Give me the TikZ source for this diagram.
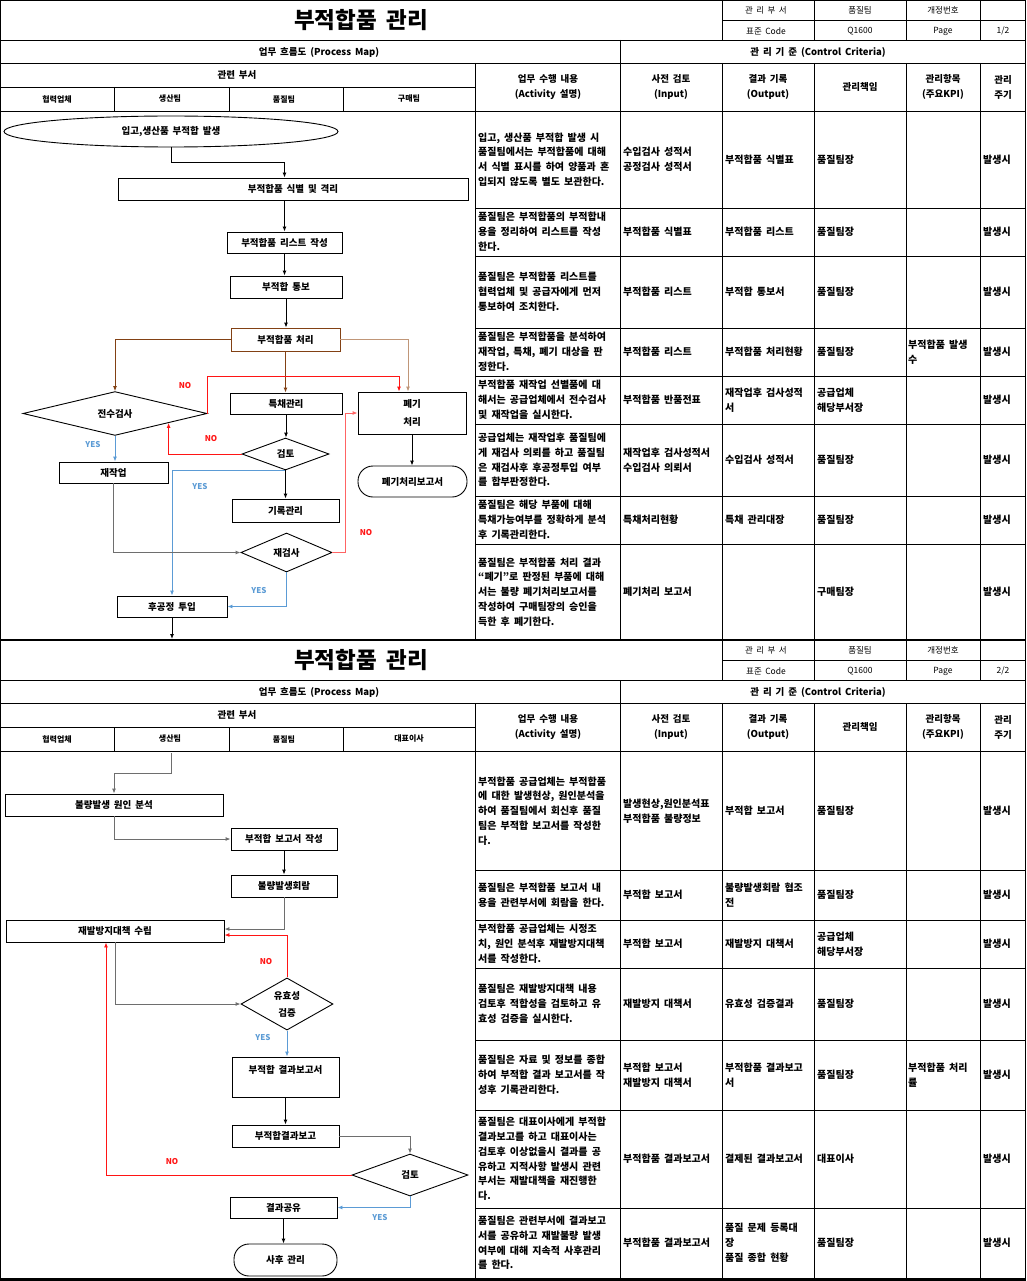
\documentclass[tikz,border=0pt]{standalone}
\usepackage{fontspec}
\setmainfont{Noto Sans CJK KR}[WordSpace=1.8]
\usetikzlibrary{shapes.geometric,arrows.meta,calc}
\definecolor{cred}{RGB}{255,20,20}
\definecolor{clred}{RGB}{255,100,100}
\definecolor{cblue}{RGB}{91,155,213}
\definecolor{cbrown}{RGB}{130,65,20}
\definecolor{clbrown}{RGB}{192,150,120}
\definecolor{cgray}{RGB}{110,110,110}
\newcommand\fcf{\bfseries\fontsize{9.5}{11}\selectfont}
\newcommand\tabf{\bfseries\fontsize{10}{14.8}\selectfont}
\begin{document}
\begin{tikzpicture}[x=1pt,y=-1pt,
  fbox/.style={draw,line width=0.9pt,inner sep=0pt,font=\fcf,align=center},
  rbox/.style={fbox,rounded corners=15pt},
  dia/.style={diamond,draw,line width=0.9pt,inner sep=0pt,font=\fcf,align=center},
  arr/.style={-{Latex[length=5pt,width=4pt]},line width=0.9pt},
  nolab/.style={text=cred,font=\bfseries\fontsize{8}{9}\selectfont,inner sep=0pt},
  yeslab/.style={text=cblue,font=\bfseries\fontsize{8}{9}\selectfont,inner sep=0pt},
  grid/.style={line width=0.8pt},
  cell/.style={anchor=west,inner sep=0pt,align=left,font=\tabf},
  hsm/.style={inner sep=0pt,font=\fontsize{8.5}{10}\selectfont},
  hmd/.style={inner sep=0pt,font=\bfseries\fontsize{9.5}{11}\selectfont},
  hln/.style={inner sep=0pt,font=\bfseries\fontsize{8}{9}\selectfont},
  hmd2/.style={inner sep=0pt,align=center,font=\bfseries\fontsize{9.5}{15}\selectfont}]
\useasboundingbox (0,0) rectangle (1026,1281);
\fill[white] (0,0) rectangle (1026,1281);

% ---------- headers and table grid ----------
\foreach \oy/\pg/\lane/\s in {0/1/구매팀/a,640/2/대표이사/b} {
 \begin{scope}[shift={(0,\oy)}]
  \draw[grid] (722,0) -- (722,40) (722,20) -- (1026,20) (814,0) -- (814,40) (906,0) -- (906,40) (980,0) -- (980,40);
  \draw[grid] (0,40) -- (1026,40) (0,63) -- (1026,63) (0,87) -- (475,87) (0,111) -- (1026,111);
  \draw[grid] (620,40) -- (620,640) (475,63) -- (475,640) (722,63) -- (722,640) (814,63) -- (814,640) (906,63) -- (906,640) (980,63) -- (980,640);
  \draw[grid] (114,87) -- (114,111) (229,87) -- (229,111) (343,87) -- (343,111);
  \node[inner sep=0pt,font=\bfseries\fontsize{22.5}{26}\selectfont] (title\s) at (361,20) {부적합품 관리};
  \node[hsm] (dept\s) at (766,10) {관 리 부 서};
  \node[hsm] (team\s) at (860,10) {품질팀};
  \node[hsm] (hrev\s) at (943,10) {개정번호};
  \node[hsm] (code\s) at (766,31) {표준 Code};
  \node[hsm] (q\s) at (860,31) {Q1600};
  \node[hsm] (page\s) at (943,31) {Page};
  \node[hsm] (pn\s) at (1003,31) {\pg/2};
  \node[hmd] (pm\s) at (319,52) {업무 흐름도 (Process Map)};
  \node[hmd] (cc\s) at (818,52) {관 리 기 준 (Control Criteria)};
  \node[hmd] (rd\s) at (237,75) {관련 부서};
  \node[hln] (la\s) at (57,99) {협력업체};
  \node[hln] (lb\s) at (170,99) {생산팀};
  \node[hln] (lc\s) at (284,99) {품질팀};
  \node[hln] (ld\s) at (409,99) {\lane};
  \node[hmd2] (act\s) at (548,87) {업무 수행 내용\\(Activity 설명)};
  \node[hmd2] (inp\s) at (671,87) {사전 검토\\(Input)};
  \node[hmd2] (out\s) at (768,87) {결과 기록\\(Output)};
  \node[hmd2] (resp\s) at (860,87) {관리책임};
  \node[hmd2] (kpi\s) at (943,87) {관리항목\\(주요KPI)};
  \node[hmd2] (cyc\s) at (1003,87) {관리\\주기};
 \end{scope}
}
\foreach \yy in {208,256,328,376,424,496,544,870,920,968,1040,1110,1208}
  \draw[grid] (475,\yy) -- (1026,\yy);
\draw[grid] (0,0.5) -- (1026,0.5);
\draw[line width=1.2pt] (0.6,0) -- (0.6,1281) (1025.4,0) -- (1025.4,1281);
\draw[line width=2.5pt] (0,640) -- (1026,640);
\draw[line width=3pt] (0,1279.5) -- (1026,1279.5);

% ---------- table texts page 1 ----------
\node[cell] (r1a) at (478,159.5) {입고, 생산품 부적합 발생 시\\품질팀에서는 부적합품에 대해\\서 식별 표시를 하여 양품과 혼\\입되지 않도록 별도 보관한다.};
\node[cell] (r1b) at (623,159.5) {수입검사 성적서\\공정검사 성적서};
\node[cell] (r1c) at (725,159.5) {부적합품 식별표};
\node[cell] (r1d) at (817,159.5) {품질팀장};
\node[cell] (r1f) at (983,159.5) {발생시};
\node[cell] (r2a) at (478,232) {품질팀은 부적합품의 부적합내\\용을 정리하여 리스트를 작성\\한다.};
\node[cell] (r2b) at (623,232) {부적합품 식별표};
\node[cell] (r2c) at (725,232) {부적합품 리스트};
\node[cell] (r2d) at (817,232) {품질팀장};
\node[cell] (r2f) at (983,232) {발생시};
\node[cell] (r3a) at (478,292) {품질팀은 부적합품 리스트를\\협력업체 및 공급자에게 먼저\\통보하여 조치한다.};
\node[cell] (r3b) at (623,292) {부적합품 리스트};
\node[cell] (r3c) at (725,292) {부적합 통보서};
\node[cell] (r3d) at (817,292) {품질팀장};
\node[cell] (r3f) at (983,292) {발생시};
\node[cell] (r4a) at (478,352) {품질팀은 부적합품을 분석하여\\재작업, 특채, 폐기 대상을 판\\정한다.};
\node[cell] (r4b) at (623,352) {부적합품 리스트};
\node[cell] (r4c) at (725,352) {부적합품 처리현황};
\node[cell] (r4d) at (817,352) {품질팀장};
\node[cell] (r4e) at (908,352) {부적합품 발생\\수};
\node[cell] (r4f) at (983,352) {발생시};
\node[cell] (r5a) at (478,400) {부적합품 재작업 선별품에 대\\해서는 공급업체에서 전수검사\\및 재작업을 실시한다.};
\node[cell] (r5b) at (623,400) {부적합품 반품전표};
\node[cell] (r5c) at (725,400) {재작업후 검사성적\\서};
\node[cell] (r5d) at (817,400) {공급업체\\해당부서장};
\node[cell] (r5f) at (983,400) {발생시};
\node[cell] (r6a) at (478,460) {공급업체는 재작업후 품질팀에\\게 재검사 의뢰를 하고 품질팀\\은 재검사후 후공정투입 여부\\를 합부판정한다.};
\node[cell] (r6b) at (623,460) {재작업후 검사성적서\\수입검사 의뢰서};
\node[cell] (r6c) at (725,460) {수입검사 성적서};
\node[cell] (r6d) at (817,460) {품질팀장};
\node[cell] (r6f) at (983,460) {발생시};
\node[cell] (r7a) at (478,520) {품질팀은 해당 부품에 대해\\특채가능여부를 정확하게 분석\\후 기록관리한다.};
\node[cell] (r7b) at (623,520) {특채처리현황};
\node[cell] (r7c) at (725,520) {특채 관리대장};
\node[cell] (r7d) at (817,520) {품질팀장};
\node[cell] (r7f) at (983,520) {발생시};
\node[cell] (r8a) at (478,592) {품질팀은 부적합품 처리 결과\\“폐기”로 판정된 부품에 대해\\서는 불량 폐기처리보고서를\\작성하여 구매팀장의 승인을\\득한 후 폐기한다.};
\node[cell] (r8b) at (623,592) {폐기처리 보고서};
\node[cell] (r8d) at (817,592) {구매팀장};
\node[cell] (r8f) at (983,592) {발생시};

% ---------- table texts page 2 ----------
\node[cell] (s1a) at (478,811) {부적합품 공급업체는 부적합품\\에 대한 발생현상, 원인분석을\\하여 품질팀에서 회신후 품질\\팀은 부적합 보고서를 작성한\\다.};
\node[cell] (s1b) at (623,811) {발생현상,원인분석표\\부적합품 불량정보};
\node[cell] (s1c) at (725,811) {부적합 보고서};
\node[cell] (s1d) at (817,811) {품질팀장};
\node[cell] (s1f) at (983,811) {발생시};
\node[cell] (s2a) at (478,895) {품질팀은 부적합품 보고서 내\\용을 관련부서에 회람을 한다.};
\node[cell] (s2b) at (623,895) {부적합 보고서};
\node[cell] (s2c) at (725,895) {불량발생회람 협조\\전};
\node[cell] (s2d) at (817,895) {품질팀장};
\node[cell] (s2f) at (983,895) {발생시};
\node[cell] (s3a) at (478,944) {부적합품 공급업체는 시정조\\치, 원인 분석후 재발방지대책\\서를 작성한다.};
\node[cell] (s3b) at (623,944) {부적합 보고서};
\node[cell] (s3c) at (725,944) {재발방지 대책서};
\node[cell] (s3d) at (817,944) {공급업체\\해당부서장};
\node[cell] (s3f) at (983,944) {발생시};
\node[cell] (s4a) at (478,1004) {품질팀은 재발방지대책 내용\\검토후 적합성을 검토하고 유\\효성 검증을 실시한다.};
\node[cell] (s4b) at (623,1004) {재발방지 대책서};
\node[cell] (s4c) at (725,1004) {유효성 검증결과};
\node[cell] (s4d) at (817,1004) {품질팀장};
\node[cell] (s4f) at (983,1004) {발생시};
\node[cell] (s5a) at (478,1075) {품질팀은 자료 및 정보를 종합\\하여 부적합 결과 보고서를 작\\성후 기록관리한다.};
\node[cell] (s5b) at (623,1075) {부적합 보고서\\재발방지 대책서};
\node[cell] (s5c) at (725,1075) {부적합품 결과보고\\서};
\node[cell] (s5d) at (817,1075) {품질팀장};
\node[cell] (s5e) at (908,1075) {부적합품 처리\\률};
\node[cell] (s5f) at (983,1075) {발생시};
\node[cell] (s6a) at (478,1159) {품질팀은 대표이사에게 부적합\\결과보고를 하고 대표이사는\\검토후 이상없을시 결과를 공\\유하고 지적사항 발생시 관련\\부서는 재발대책을 재진행한\\다.};
\node[cell] (s6b) at (623,1159) {부적합품 결과보고서};
\node[cell] (s6c) at (725,1159) {결제된 결과보고서};
\node[cell] (s6d) at (817,1159) {대표이사};
\node[cell] (s6f) at (983,1159) {발생시};
\node[cell] (s7a) at (478,1243) {품질팀은 관련부서에 결과보고\\서를 공유하고 재발불량 발생\\여부에 대해 지속적 사후관리\\를 한다.};
\node[cell] (s7b) at (623,1243) {부적합품 결과보고서};
\node[cell] (s7c) at (725,1243) {품질 문제 등록대\\장\\품질 종합 현황};
\node[cell] (s7d) at (817,1243) {품질팀장};
\node[cell] (s7f) at (983,1243) {발생시};

% ---------- flowchart page 1 ----------
\node[draw,ellipse,line width=0.9pt,minimum width=334pt,minimum height=31pt,inner sep=0pt,font=\fcf] (start) at (171,131.5) {입고,생산품 부적합 발생};
\node[fbox,minimum width=350pt,minimum height=22pt] (ident) at (293,189) {부적합품 식별 및 격리};
\node[fbox,minimum width=115pt,minimum height=21pt] (list) at (284.5,242.5) {부적합품 리스트 작성};
\node[fbox,minimum width=112pt,minimum height=22pt] (notify) at (286,287) {부적합 통보};
\node[fbox,draw=cbrown,minimum width=109pt,minimum height=23pt] (proc) at (285.5,339.5) {부적합품 처리};
\node[dia,minimum width=184pt,minimum height=41pt] (full) at (115,413.5) {전수검사};
\node[fbox,minimum width=112pt,minimum height=21pt] (tc) at (286,403.5) {특채관리};
\node[fbox,minimum width=108pt,minimum height=42pt] (scrap) at (412,413) {폐기\\[7pt]처리};
\node[dia,minimum width=87pt,minimum height=32pt] (rev) at (285.5,454) {검토};
\node[fbox,minimum width=109pt,minimum height=21pt] (rework) at (113.5,472.5) {재작업};
\node[fbox,minimum width=107pt,minimum height=23pt] (rec) at (285.5,510.5) {기록관리};
\node[rbox,minimum width=109pt,minimum height=31pt] (scraprep) at (412.5,481.5) {폐기처리보고서};
\node[dia,minimum width=91pt,minimum height=39pt] (reins) at (286.5,552.5) {재검사};
\node[fbox,minimum width=110pt,minimum height=21pt] (nextp) at (172,606.5) {후공정 투입};
\coordinate (p1end) at (172,639);

\draw[arr] (start.south) |- ([yshift=15pt]ident.north -| list.north) -- (ident.north -| list.north);
\draw[arr] (ident.south -| list.north) -- (list.north);
\draw[arr] (list.south) -- (list.south |- notify.north);
\draw[arr] (notify.south) -- (notify.south |- proc.north);
\draw[arr,cbrown] (proc.west) -| (full.north);
\draw[arr,clbrown] (proc.east) -| ([xshift=-4pt]scrap.north);
\draw[arr,cbrown] (proc.south) -- (proc.south |- tc.north);
\draw[arr,cred] (full.east) -- ++(0,-37) -| ([xshift=-13pt]scrap.north);
\draw[arr] (tc.south) -- (tc.south |- rev.north);
\draw[arr,cred] (rev.west) -| ($(full.east)!0.42!(full.south)$);
\draw[arr,cblue] (full.south) -- (full.south |- rework.north);
\draw[arr,cblue] (rev.south) -| (nextp.north);
\draw[arr] (rev.south) -- (rev.south |- rec.north);
\draw[arr] (scrap.south) -- (scrap.south |- scraprep.north);
\draw[arr,cgray] (rework.south) |- (reins.west);
\draw[arr,clred] (reins.east) -- ++(13,0) |- (scrap.west);
\draw[arr,cblue] (reins.south) |- (nextp.east);
\draw[arr] (nextp.south) -- (p1end);

\node[nolab] (no1) at (185,386) {NO};
\node[nolab] (no2) at (211,439) {NO};
\node[yeslab] (yes1) at (93,445) {YES};
\node[yeslab] (yes2) at (200,487) {YES};
\node[nolab] (no3) at (366,533) {NO};
\node[yeslab] (yes3) at (259,591) {YES};

% ---------- flowchart page 2 ----------
\coordinate (p2start) at (171,753);
\node[fbox,minimum width=218pt,minimum height=22pt] (cause) at (114,805) {불량발생 원인 분석};
\node[fbox,minimum width=106pt,minimum height=22pt] (rpt) at (284,839) {부적합 보고서 작성};
\node[fbox,minimum width=106pt,minimum height=22pt] (circ) at (284,886) {불량발생회람};
\node[fbox,minimum width=218pt,minimum height=22pt] (plan) at (115,931) {재발방지대책 수립};
\node[dia,minimum width=92pt,minimum height=52pt] (valid) at (287,1004) {유효성\\[6pt]검증};
\node[fbox,minimum width=107pt,minimum height=40pt] (res) at (285.5,1077) {부적합 결과보고서\\[4pt]~};
\node[fbox,minimum width=107pt,minimum height=22pt] (resrep) at (285.5,1136) {부적합결과보고};
\node[dia,minimum width=116pt,minimum height=42pt] (rev2) at (410,1175) {검토};
\node[fbox,minimum width=107pt,minimum height=21pt] (share) at (283.5,1207.5) {결과공유};
\node[rbox,minimum width=103pt,minimum height=32pt] (after) at (285.5,1260) {사후 관리};

\draw[arr,cgray] (p2start) |- ([yshift=20pt]cause.north) -- (cause.north);
\draw[arr,cgray] (cause.south) |- (rpt.west);
\draw[arr] (rpt.south) -- (rpt.south |- circ.north);
\draw[arr,cgray] (circ.south) |- ([yshift=2pt]plan.east);
\draw[arr,cred] (valid.north) |- ([yshift=-4pt]plan.east);
\draw[arr,cgray] (plan.south) |- (valid.west);
\draw[arr,cblue] (valid.south) -- (valid.south |- res.north);
\draw[arr] (res.south) -- (res.south |- resrep.north);
\draw[arr,cgray] (resrep.east) -| (rev2.north);
\draw[arr,cred] (rev2.west) -| ([xshift=-9pt]plan.south);
\draw[arr,cblue] (rev2.south) |- (share.east);
\draw[arr] (share.south) -- (share.south |- after.north);

\node[nolab] (no4) at (266,962) {NO};
\node[yeslab] (yes4) at (263,1038) {YES};
\node[nolab] (no5) at (172,1162) {NO};
\node[yeslab] (yes5) at (380,1218) {YES};
\end{tikzpicture}
\end{document}
